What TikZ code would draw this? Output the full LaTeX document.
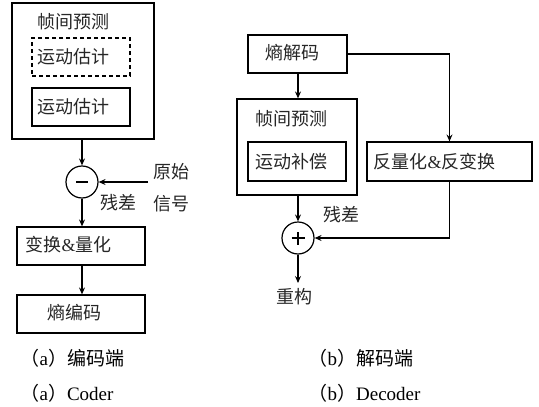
\documentclass[tikz,border=0pt]{standalone}
\usepackage{fontspec}
\setmainfont{Liberation Serif}
\newfontfamily\cjk{Noto Sans CJK SC}
\usetikzlibrary{arrows.meta}
\begin{document}
\begin{tikzpicture}[x=1pt,y=-1pt,line width=1.2pt,
  box/.style={draw,line width=1.2pt,inner sep=0pt,rectangle},
  txt/.style={inner sep=0pt,font=\cjk\fontsize{18}{18}\selectfont,text=black!85},
  mixtxt/.style={inner sep=0pt,anchor=west,font=\fontsize{18}{18}\selectfont,text=black!85},
  captxt/.style={inner sep=0pt,anchor=west,font=\fontsize{19}{19}\selectfont},
  sumc/.style={draw,circle,line width=1.2pt,minimum size=32pt,inner sep=0pt},
  arr/.style={-{Stealth[length=7pt,width=6pt,inset=2.5pt]},line width=1.2pt}]
\useasboundingbox (0,0) rectangle (539,407);
% ---------- (a) coder ----------
\node[box,minimum width=142pt,minimum height=136pt] (outerL) at (83,71) {};
\node[txt] (tL) at (73.5,22) {帧间预测};
\node[box,dashed,dash pattern=on 4pt off 3pt,minimum width=98pt,minimum height=38pt] (dashL) at (81,57) {};
\node[txt,anchor=west] (dashLt) at (37,57) {运动估计};
\node[box,minimum width=98pt,minimum height=38pt] (meL) at (81,107) {};
\node[txt,anchor=west] (meLt) at (37,107) {运动估计};
\node[sumc] (minus) at (82,182) {};
\draw[line width=2pt] ([xshift=-6pt]minus.center) -- ([xshift=6pt]minus.center);
\node[txt] (orig1) at (171,172) {原始};
\node[txt] (orig2) at (171,204) {信号};
\node[txt] (resL) at (118,203) {残差};
\coordinate (origin) at (148,182);
\node[box,minimum width=128pt,minimum height=38pt] (tq) at (81,246) {};
\node[mixtxt] (tqt) at (25,245) {{\cjk 变换}\&{\cjk 量化}};
\node[box,minimum width=128pt,minimum height=38pt] (ec) at (81,314) {};
\node[txt] (ect) at (75,313) {熵编码};
\draw[arr] (minus.north |- outerL.south) -- (minus.north);
\draw[arr] (origin) -- (minus.east);
\draw[arr] (minus.south) -- (minus.south |- tq.north);
\draw[arr] (minus.south |- tq.south) -- (minus.south |- ec.north);
\node[captxt] (capa) at (20,358) {{\cjk （}a{\cjk ）编码端}};
\node[captxt] (capa2) at (20,393) {{\cjk （}a{\cjk ）}Coder};
% ---------- (b) decoder ----------
\node[box,minimum width=99pt,minimum height=38pt] (ed) at (297.5,54) {};
\node[txt] (edt) at (292.5,53) {熵解码};
\node[box,minimum width=120pt,minimum height=96pt] (outerR) at (297,147) {};
\node[txt] (tR) at (291.5,119) {帧间预测};
\node[box,minimum width=98pt,minimum height=39pt] (mc) at (297,161.5) {};
\node[txt,anchor=west] (mct) at (255,162) {运动补偿};
\node[box,minimum width=165pt,minimum height=39pt] (iq) at (449.5,161.5) {};
\node[mixtxt] (iqt) at (373,162) {{\cjk 反量化}\&{\cjk 反变换}};
\node[sumc] (plus) at (298,238) {};
\draw ([xshift=-6.5pt]plus.center) -- ([xshift=6.5pt]plus.center);
\draw ([yshift=-6.5pt]plus.center) -- ([yshift=6.5pt]plus.center);
\node[txt] (resR) at (341,215) {残差};
\coordinate (recon) at (298,283);
\node[txt] (rect) at (294.5,297) {重构};
\draw[arr] (ed.east) -| (iq.north);
\draw[arr] (plus.north |- ed.south) -- (plus.north |- outerR.north);
\draw[arr] (plus.north |- outerR.south) -- (plus.north);
\draw[arr] (iq.south) |- (plus.east);
\draw[arr] (plus.south) -- (recon);
\node[captxt] (capb) at (308,358) {{\cjk （}b{\cjk ）解码端}};
\node[captxt] (capb2) at (308,393) {{\cjk （}b{\cjk ）}Decoder};
\end{tikzpicture}
\end{document}
